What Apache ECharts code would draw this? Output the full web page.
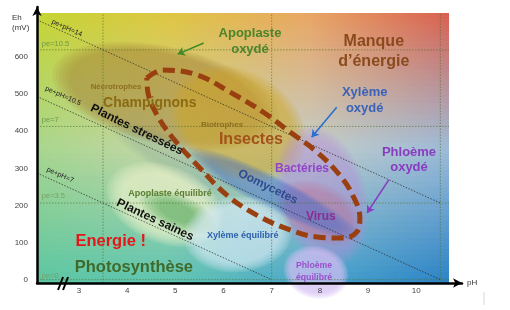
<!DOCTYPE html>
<html><head><meta charset="utf-8">
<script src="https://cdn.jsdelivr.net/npm/echarts@6/dist/echarts.min.js"></script>
<style>html,body{margin:0;padding:0;background:#fff}#c{width:510px;height:310px}</style>
</head><body><div id="c"></div>
<script>
// ---------- data ----------
const xTicks = [3, 4, 5, 6, 7, 8, 9, 10];
const yTicks = [0, 100, 200, 300, 400, 500, 600];
const peLevels = [10.5, 7, 3.5, 0];
const pepHLevels = [14, 10.5, 7];
const phGuides = [3.5, 7, 10.5];
const MV_PER_PE = 59;

// zones: [pH, Eh(mV), half-width (pH), half-height (mV), tilt (deg)]
const zoneNames = ['champignons', 'insectes', 'stress', 'bacteries', 'virus', 'oomycetes',
  'apoplasteEq', 'apoplasteCore', 'xylemeEq', 'phloemeEq'];
const zoneShapes = [
  [4.80, 495, 2.40, 132, 13],
  [6.30, 420, 1.50, 142, 30],
  [5.10, 322, 1.66, 49, 27],
  [8.05, 225, 0.92, 192, -15],
  [7.98, 180, 0.95, 78, 26],
  [7.05, 232, 2.00, 44, 27],
  [4.78, 203, 1.26, 104, 22],
  [5.05, 182, 0.83, 46, 22],
  [6.30, 122, 1.12, 102, -5],
  [7.92, 20, 0.68, 70, 15]
];

// dashed loop (pH, Eh)
const loopPoints = [
  [4.41, 544], [4.74, 565], [5.45, 552], [6.13, 506], [6.82, 452], [7.38, 398],
  [7.94, 344], [8.41, 282], [8.68, 228], [8.83, 166], [8.77, 129], [8.48, 112],
  [7.94, 115], [7.38, 134], [6.69, 174], [6.07, 228], [5.51, 301], [4.95, 382],
  [4.62, 444], [4.43, 506], [4.41, 544]
];

// arrows: [from, to]
const arrowPaths = [
  [[5.59, 638], [5.05, 608]],
  [[8.35, 465], [7.83, 384]],
  [[9.43, 269], [8.98, 180]]
];

const labelTexts = [
  'Apoplaste\noxydé', 'Manque\nd’énergie', 'Xylème\noxydé', 'Phloème\noxydé',
  'Nécrotrophes', 'Champignons', 'Biotrophes', 'Insectes', 'Plantes stressées',
  'Bactéries', 'Oomycetes', 'Virus', 'Apoplaste équilibré', 'Plantes saines',
  'Xylème équilibré', 'Energie !', 'Photosynthèse', 'Phloème\néquilibré',
  'pe=10.5', 'pe=7', 'pe=3.5', 'pe=0', 'pe+pH=14', 'pe+pH=10.5', 'pe+pH=7'
];
const labelPoints = [
  [6.55, 641], [9.12, 616], [8.93, 484], [9.85, 323],
  [3.77, 519], [4.47, 476], [5.97, 417], [6.57, 377], [4.20, 404],
  [7.63, 298], [6.92, 250], [8.02, 169], [4.89, 231], [4.58, 161],
  [6.40, 118], [3.66, 104], [4.14, 34], [7.88, 23],
  [2.23, 635], [2.23, 430], [2.23, 226], [2.23, 10], [2.75, 678], [2.67, 495], [2.61, 282]
];

// ---------- layout / style ----------
const PH_MIN = 2.13, PH_MAX = 10.95, PH_END = 10.68;
const EH_MIN = -9, EH_MAX = 735, EH_TOP = 719;
const FONT = '"Liberation Sans", Arial, sans-serif';

const bgStops = [0, 0.32, 0.66, 1];
const bgRows = [
  [[198, 213, 50], [222, 198, 66], [233, 166, 99], [217, 95, 80]],
  [[168, 214, 142], [200, 214, 168], [196, 205, 200], [157, 187, 216]],
  [[91, 198, 163], [93, 197, 178], [72, 166, 204], [42, 130, 198]]
];
const zoneStyles = {
  champignons: { rgb: '160,125,58', alpha: 0.5, soft: 0.18 },
  insectes: { rgb: '210,165,36', alpha: 0.55, soft: 0.22 },
  stress: { rgb: '95,145,150', alpha: 0.22, soft: 0.4 },
  bacteries: { rgb: '178,150,222', alpha: 0.5, soft: 0.22 },
  virus: { rgb: '200,90,130', alpha: 0.32, soft: 0.35 },
  oomycetes: { rgb: '55,105,205', alpha: 0.42, soft: 0.3 },
  apoplasteEq: { rgb: '236,242,205', alpha: 0.68, soft: 0.3 },
  apoplasteCore: { rgb: '45,145,50', alpha: 0.45, soft: 0.6 },
  xylemeEq: { rgb: '218,234,246', alpha: 0.66, soft: 0.28 },
  phloemeEq: { rgb: '212,192,242', alpha: 0.72, soft: 0.25 }
};
const labelStyles = [
  { s: 13, c: '#4b842b', w: 'bold', lh: 16 },
  { s: 16, c: '#8a4a1e', w: 'bold', lh: 20 },
  { s: 13, c: '#3a62b8', w: 'bold', lh: 16 },
  { s: 13, c: '#8a3cc0', w: 'bold', lh: 15 },
  { s: 7.8, c: '#8f6d22', w: 'bold' },
  { s: 14, c: '#8b6a12', w: 'bold' },
  { s: 8, c: '#8f6d22', w: 'bold' },
  { s: 16, c: '#a3521c', w: 'bold' },
  { s: 12, c: '#111', w: 'bold', r: 26 },
  { s: 12, c: '#9245c8', w: 'bold' },
  { s: 12, c: '#2e4c8e', w: 'bold', r: 26 },
  { s: 12, c: '#8a2e90', w: 'bold' },
  { s: 9, c: '#5b7c32', w: 'bold' },
  { s: 12, c: '#111', w: 'bold', r: 25 },
  { s: 9, c: '#2e5fae', w: 'bold' },
  { s: 16.5, c: '#e5151a', w: 'bold' },
  { s: 16.5, c: '#3f6b2a', w: 'bold' },
  { s: 8.7, c: '#9a52cc', w: 'bold', lh: 12 },
  { s: 7.5, c: '#6f9a48', w: 'normal', a: 'left' },
  { s: 7.5, c: '#6f9a48', w: 'normal', a: 'left' },
  { s: 7.5, c: '#7a9f62', w: 'normal', a: 'left' },
  { s: 7.5, c: '#7a9f62', w: 'normal', a: 'left' },
  { s: 7, c: '#222', w: 'normal', r: 24 },
  { s: 7, c: '#222', w: 'normal', r: 24 },
  { s: 7, c: '#222', w: 'normal', r: 24 }
];
const arrowColors = ['#3f8a26', '#2a6fd0', '#8a3ac0'];

function lerp(a, b, t) { return a.map((v, i) => Math.round(v + (b[i] - v) * t)); }
function bgColorAt(col, t) {
  const c = t < 0.5 ? lerp(bgRows[0][col], bgRows[1][col], t / 0.5)
                    : lerp(bgRows[1][col], bgRows[2][col], (t - 0.5) / 0.5);
  return 'rgb(' + c.join(',') + ')';
}
function ellipsePoints(c, rx, ry, deg, s) {
  const th = deg * Math.PI / 180, ct = Math.cos(th), st = Math.sin(th), pts = [];
  for (let k = 0; k < 60; k++) {
    const t = k / 60 * 2 * Math.PI, px = rx * s * Math.cos(t), py = ry * s * Math.sin(t);
    pts.push([c[0] + px * ct - py * st, c[1] + px * st + py * ct]);
  }
  return pts;
}

const series = [];
// background
series.push({
  type: 'custom', z: 1, silent: true, data: [[PH_MIN, EH_MIN]],
  renderItem: (params, api) => {
    const tl = api.coord([PH_MIN, EH_TOP]), br = api.coord([PH_END, EH_MIN]);
    const N = 48, h = (br[1] - tl[1]) / N, children = [];
    for (let i = 0; i < N; i++) {
      const t = (i + 0.5) / N;
      children.push({
        type: 'rect',
        shape: { x: tl[0], y: tl[1] + i * h, width: br[0] - tl[0], height: h + 0.7 },
        style: { fill: new echarts.graphic.LinearGradient(0, 0, 1, 0,
          bgStops.map((o, j) => ({ offset: o, color: bgColorAt(j, t) }))) }
      });
    }
    return { type: 'group', children };
  }
});
// zones
series.push({
  type: 'custom', z: 2, silent: true, data: zoneShapes, encode: { x: 0, y: 1 },
  renderItem: (params, api) => {
    const st = zoneStyles[zoneNames[params.dataIndex]];
    const c = api.coord([api.value(0), api.value(1)]);
    const rx = api.size([api.value(2), 0])[0], ry = api.size([0, api.value(3)])[1];
    const deg = api.value(4), layers = 6, a = 1 - Math.pow(1 - st.alpha, 1 / layers), children = [];
    for (let L = 0; L < layers; L++) {
      const s = 1 - L * st.soft / layers;
      children.push({ type: 'polygon', shape: { points: ellipsePoints(c, rx, ry, deg, s) },
        style: { fill: 'rgba(' + st.rgb + ',' + a.toFixed(3) + ')' } });
    }
    return { type: 'group', children };
  }
});
// guide lines
const guideCommon = { type: 'line', z: 3, silent: true, symbol: 'none', animation: false };
peLevels.forEach(pe => series.push(Object.assign({}, guideCommon, {
  data: [[PH_MIN, pe * MV_PER_PE], [PH_END, pe * MV_PER_PE]],
  lineStyle: { color: 'rgba(80,115,45,0.8)', width: 0.8, type: [1.5, 1.5] }
})));
phGuides.forEach(ph => series.push(Object.assign({}, guideCommon, {
  data: [[ph, EH_MIN], [ph, EH_TOP]],
  lineStyle: { color: 'rgba(80,115,45,0.8)', width: 0.8, type: [1.5, 1.5] }
})));
pepHLevels.forEach(k => {
  const end = Math.min(phGuides[phGuides.length - 1], k);
  series.push(Object.assign({}, guideCommon, {
    data: [[PH_MIN, MV_PER_PE * (k - PH_MIN)], [end, MV_PER_PE * (k - end)]],
    lineStyle: { color: 'rgba(30,30,30,0.85)', width: 0.8, type: [1.5, 1.5] }
  }));
});
// dashed loop
series.push({
  type: 'line', z: 4, silent: true, symbol: 'none', smooth: 0.4, data: loopPoints,
  lineStyle: { color: '#9a3f10', width: 5, type: [12, 6], cap: 'butt' }
});
// arrows
series.push({
  type: 'lines', coordinateSystem: 'cartesian2d', z: 5, silent: true,
  symbol: ['none', 'arrow'], symbolSize: 7,
  data: arrowPaths.map((p, i) => ({ coords: p, lineStyle: { color: arrowColors[i], width: 1.6, opacity: 1 } }))
});
// labels
series.push({
  type: 'custom', z: 6, silent: true, data: labelPoints,
  renderItem: (params, api) => {
    const i = params.dataIndex, st = labelStyles[i];
    const p = api.coord([api.value(0), api.value(1)]);
    return {
      type: 'text', x: p[0], y: p[1], rotation: -(st.r || 0) * Math.PI / 180,
      style: {
        text: labelTexts[i], fill: st.c, font: st.w + ' ' + st.s + 'px ' + FONT,
        align: st.a || 'center', verticalAlign: 'middle', lineHeight: st.lh || st.s * 1.2
      }
    };
  }
});
// axis break marks
series.push({
  type: 'custom', z: 12, zlevel: 1, silent: true, data: [[2.66, EH_MIN]],
  renderItem: (params, api) => {
    const p = api.coord([api.value(0), api.value(1)]);
    const ls = { stroke: '#000', lineWidth: 2 };
    return { type: 'group', children: [
      { type: 'line', shape: { x1: p[0] - 4.5, y1: p[1] + 7, x2: p[0] + 0.5, y2: p[1] - 6 }, style: ls },
      { type: 'line', shape: { x1: p[0] + 0.5, y1: p[1] + 7, x2: p[0] + 5.5, y2: p[1] - 6 }, style: ls }
    ] };
  }
});

const axisLine = { show: true, onZero: false, symbol: ['none', 'arrow'], symbolSize: [7, 9],
  lineStyle: { color: '#000', width: 2.5 } };
const chart = echarts.init(document.getElementById('c'), null, { renderer: 'canvas' });
chart.setOption({
  animation: false,
  grid: { left: 37, right: 48, top: 7, bottom: 27, containLabel: false },
  xAxis: {
    type: 'value', min: PH_MIN, max: PH_MAX, z: 10,
    axisLine, axisTick: { show: false }, splitLine: { show: false },
    axisLabel: { customValues: xTicks, fontSize: 8, color: '#444', margin: 4, fontFamily: FONT },
    name: 'pH', nameLocation: 'end', nameGap: 5,
    nameTextStyle: { fontSize: 8, color: '#333', fontFamily: FONT }
  },
  yAxis: {
    type: 'value', min: EH_MIN, max: EH_MAX, z: 10,
    axisLine, axisTick: { show: false }, splitLine: { show: false },
    axisLabel: { customValues: yTicks, fontSize: 8, color: '#444', margin: 9, fontFamily: FONT }
  },
  graphic: [
    { type: 'text', left: 12, top: 13, style: { text: 'Eh\n(mV)', font: '8px ' + FONT, fill: '#333', lineHeight: 10 } },
    { type: 'line', shape: { x1: 484, y1: 292, x2: 484, y2: 305 }, style: { stroke: '#d8d8d8', lineWidth: 1 } }
  ],
  series
});
</script>
</body></html>
